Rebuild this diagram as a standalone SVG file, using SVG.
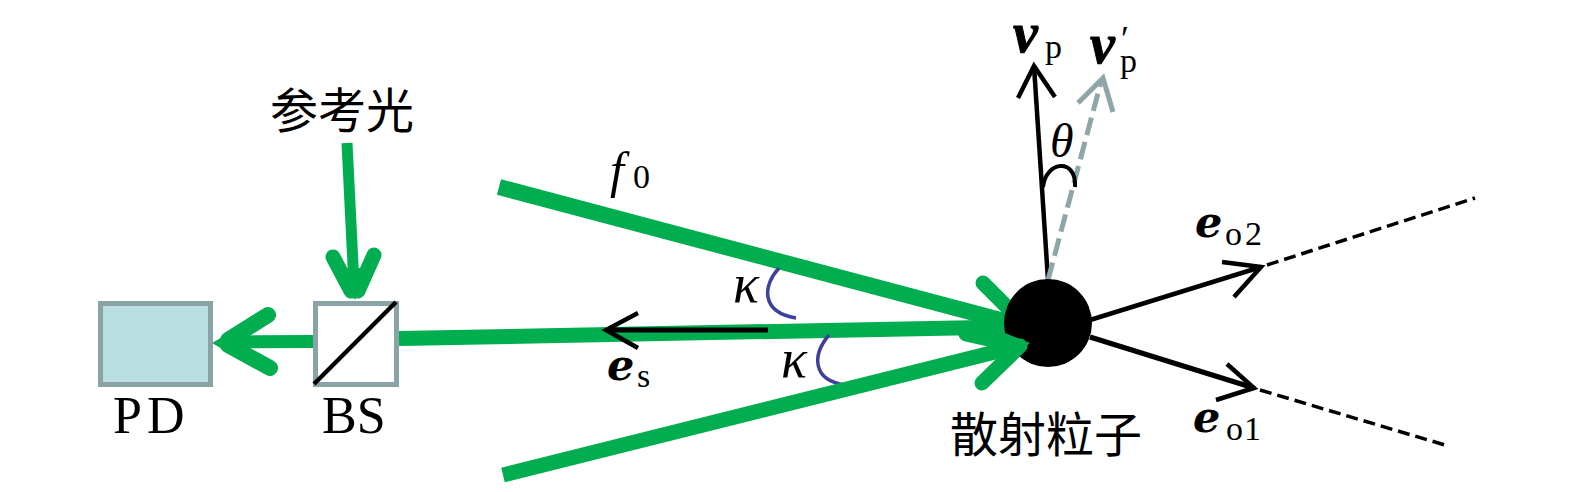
<svg xmlns="http://www.w3.org/2000/svg" width="1575" height="492" viewBox="0 0 1575 492">
<style>
.g{fill:none;stroke:#00ae4f;stroke-linecap:round;stroke-linejoin:miter;stroke-width:15}
.gb{fill:none;stroke:#00ae4f;stroke-width:15}
.k{fill:none;stroke:#000;stroke-width:4.5}
.d{fill:none;stroke:#000;stroke-width:3.5;stroke-dasharray:12 6}
.arc{fill:none;stroke:#3d419c;stroke-width:3.5}
.box{stroke:#8aa3a6;stroke-width:5}
.t{font-family:"Liberation Serif",serif;font-size:52px;fill:#000}
.b{font-family:"DejaVu Serif",serif;font-weight:bold;font-style:italic;font-size:43px;fill:#000}
.v{font-family:"Liberation Serif",serif;font-weight:bold;font-style:italic;font-size:56px;fill:#000;stroke:#000;stroke-width:1}
.s{font-family:"Liberation Serif",serif;font-size:34px;fill:#000}
.m{font-family:"Liberation Serif",serif;font-style:italic;fill:#000}
.kp{font-family:"Liberation Serif",serif;font-style:italic;font-size:54px;fill:#000}
.c{font-family:"Noto Sans CJK SC",sans-serif;font-size:48px;fill:#000}
</style>
<g id="connectors">
<path class="gb" d="M347 143L354 285" style="stroke-width:11"/>
<path class="g" d="M333 257L351 291M374 255L358 291"/>
<path d="M355 300L339 268H371Z" fill="#00ae4f"/>
<path class="gb" d="M313 341.5L225 342" style="stroke-width:13"/>
<path class="g" d="M268 315L228 340M270 368L228 345" style="stroke-width:16"/>
<path d="M212 343L250 321V365Z" fill="#00ae4f"/>
<path class="gb" d="M399 338.5L1008 327"/>
<path class="gb" d="M499 187L1008 322" style="stroke-width:16"/>
<path class="g" d="M983 283L1012 312" style="stroke-width:15"/>
<path class="k" d="M768 330L608 330" style="stroke-width:5"/>
<path class="k" d="M638 313L606 330L638 348"/>
<path class="arc" d="M779 268C763 285 760 312 796 318"/>
<path class="arc" d="M829 335C812 355 812 380 845 385"/>
<path class="k" d="M1048 280L1034 66"/>
<path class="k" d="M1018 98L1034 66L1055 97"/>
<path d="M1048 280L1101 82" fill="none" stroke="#8fa6a9" stroke-width="5" stroke-dasharray="18 7"/>
<path d="M1078 103L1103 78L1113 112" fill="none" stroke="#8fa6a9" stroke-width="5"/>
<path d="M1043 187C1046 160 1077 158 1075 187" fill="none" stroke="#000" stroke-width="4"/>
<path class="k" d="M1090 320L1261 267"/>
<path class="k" d="M1222 262L1261 267L1234 297"/>
<path class="d" d="M1267 265L1475 198"/>
<path class="k" d="M1090 337L1254 388" style="stroke-width:5"/>
<path class="k" d="M1227 364L1254 388L1216 400"/>
<path class="d" d="M1260 390L1445 445"/>
</g>
<g id="pd"><rect class="box" x="100.5" y="303.5" width="110" height="81" fill="#b9dfe2"/><text class="t" x="113" y="433" letter-spacing="5">PD</text></g>
<g id="bs"><rect class="box" x="315.5" y="303.5" width="81" height="81" fill="#fff"/><path d="M314 384L396 302" stroke="#000" stroke-width="4.5"/><text class="t" x="322" y="433">BS</text></g>
<g id="particle"><circle cx="1048" cy="323" r="44" fill="#000"/><text class="c" x="950" y="452">散射粒子</text></g>
<g id="lower-beam">
<path class="gb" d="M503 475L1015 347" style="stroke-width:15"/>
<path class="g" d="M982 383L1020 346M966 334L1015 345"/>
<path d="M1030 343L1000 331L1005 362Z" fill="#00ae4f"/>
</g>
<g id="labels">
<text class="c" x="270" y="128">参考光</text>
<text class="v" x="1013" y="52">v</text><text class="s" x="1045" y="58">p</text>
<text class="v" x="1090" y="63">v</text><text class="s" x="1120" y="72">p<tspan dx="-16" dy="-21" font-size="36">′</tspan></text>
<text class="m" x="1050" y="157" font-size="48">θ</text>
<text class="m" x="610" y="187" font-size="50">f</text><text class="s" x="633" y="188">0</text>
<text class="kp" x="733" y="302">κ</text>
<text class="kp" x="781" y="377">κ</text>
<text class="b" x="607" y="380">e</text><text class="s" x="637" y="387">s</text>
<text class="b" x="1195" y="237">e</text><text class="s" x="1225" y="245" textLength="37" lengthAdjust="spacing">o2</text>
<text class="b" x="1193" y="432">e</text><text class="s" x="1226" y="440" textLength="35" lengthAdjust="spacing">o1</text>
</g>
</svg>
